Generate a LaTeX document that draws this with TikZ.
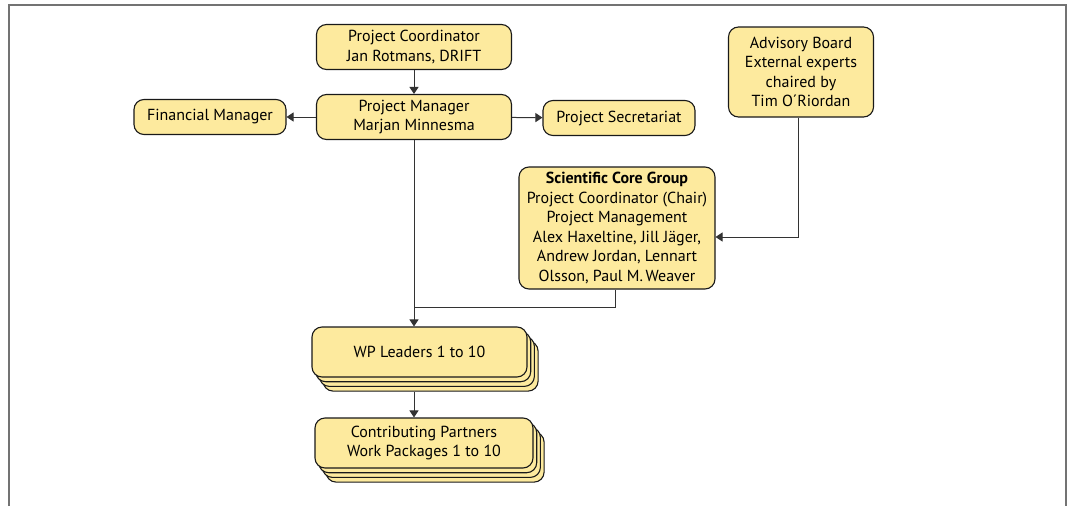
\documentclass[tikz,border=0pt]{standalone}
\usepackage{fontspec}
\setmainfont{PT Sans}
\usetikzlibrary{arrows.meta,calc}

\definecolor{boxfill}{RGB}{253,234,158}

\begin{document}
\begin{tikzpicture}[
    x=1pt, y=-1pt,
    box/.style={rectangle, rounded corners=10pt, draw=black!90, line width=1.1pt, fill=boxfill, align=center, inner sep=0pt, font=\fontsize{16}{19.5}\selectfont},
    arrow/.style={-{Triangle[width=9pt,length=7pt]}, line width=1pt, draw=black!80},
    link/.style={line width=1pt, draw=black!80}
]

% Frame
\useasboundingbox (0,0) rectangle (1070,506);
\draw [black!55, line width=1.5pt] (9,506) -- (9,5) -- (1066,5) -- (1066,506);

% Management
\node at (414,47) [box, minimum width=195pt, minimum height=45pt] (pc) {Project Coordinator\\Jan Rotmans, DRIFT};
\node at (414,117) [box, minimum width=195pt, minimum height=45pt] (pm) {Project Manager\\Marjan Minnesma};
\node at (210,117) [box, minimum width=152pt, minimum height=35pt] (fm) {Financial Manager};
\node at (619,118) [box, minimum width=152pt, minimum height=35pt] (ps) {Project Secretariat};

% Advisory board
\node at (801,72) [box, minimum width=145pt, minimum height=90pt] (ab) {Advisory Board\\External experts\\chaired by\\Tim O´Riordan};

% Scientific core group
\node at (617,228) [box, minimum width=196pt, minimum height=122pt] (scg) {\textbf{Scientific Core Group}\\Project Coordinator (Chair)\\Project Management\\Alex Haxeltine, Jill Jäger,\\Andrew Jordan, Lennart\\Olsson, Paul M.\,Weaver};

% WP leaders (stacked)
\node at (430.6,366.1) [box, minimum width=215pt, minimum height=50pt] (wp3) {};
\node at (426.9,361.4) [box, minimum width=215pt, minimum height=50pt] (wp2) {};
\node at (423.2,356.7) [box, minimum width=215pt, minimum height=50pt] (wp1) {};
\node at (419.5,352) [box, minimum width=215pt, minimum height=50pt] (wp) {WP Leaders 1 to 10};

% Contributing partners (stacked)
\node at (435.1,457.1) [box, minimum width=218pt, minimum height=50pt] (cp3) {};
\node at (431.4,452.4) [box, minimum width=218pt, minimum height=50pt] (cp2) {};
\node at (427.7,447.7) [box, minimum width=218pt, minimum height=50pt] (cp1) {};
\node at (424,443) [box, minimum width=218pt, minimum height=50pt] (cp) {Contributing Partners\\Work Packages 1 to 10};

% Connectors
\draw [arrow] (pc) -- (pm);
\draw [arrow] (pm) -- (fm);
\draw [arrow] (pm) -- (ps);
\draw [arrow] ([xshift=-3pt]ab.south) |- ([yshift=-9pt]scg.east);
\coordinate (join) at (414,307);
\draw [link] ([xshift=-2pt]scg.south) |- (join);
\draw [arrow] (pm.south) -- (pm.south |- wp.north);
\draw [arrow] (pm.south |- wp3.south) -- (pm.south |- cp.north);

\end{tikzpicture}
\end{document}
